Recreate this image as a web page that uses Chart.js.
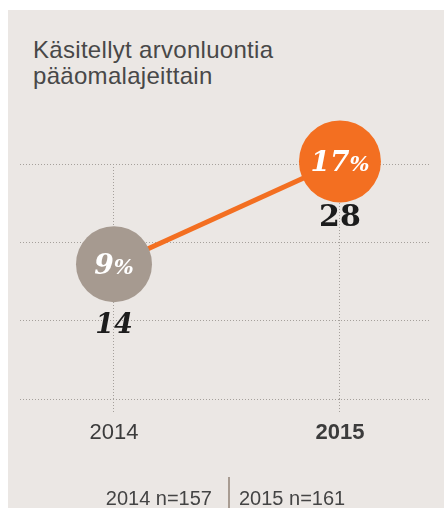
<!DOCTYPE html>
<html>
<head>
<meta charset="utf-8">
<script src="https://cdn.jsdelivr.net/npm/chart.js@4.4.1/dist/chart.umd.min.js"></script>
<style>
  html, body { margin: 0; padding: 0; background: #fff; }
  body { width: 444px; height: 508px; position: relative; overflow: hidden; font-family: "Liberation Sans", Arial, sans-serif; }
  #panel { position: absolute; left: 8px; top: 10px; width: 436px; height: 498px; background: #ebe7e4; }
  #title { position: absolute; left: 33px; top: 37px; font-size: 24px; letter-spacing: 0.3px; line-height: 26px; color: #484848; }
  #chart { position: absolute; left: 0; top: 0; }
  .foot { position: absolute; top: 486px; font-size: 20px; line-height: 24px; color: #444; white-space: nowrap; }
  #footL { right: 232px; }
  #footR { left: 239px; }
  #sep { position: absolute; left: 228px; top: 477px; width: 2px; height: 31px; background: #a89c92; }
</style>
</head>
<body>
<div id="panel"></div>
<div id="title">Käsitellyt arvonluontia<br>pääomalajeittain</div>
<canvas id="chart" width="444" height="508"></canvas>
<div class="foot" id="footL"></div>
<div id="sep"></div>
<div class="foot" id="footR"></div>
<script>
// data
var years = [2014, 2015];
var shares = [9, 17];          // % käsitellyt
var counts = [14, 28];         // lukumäärä
var sampleSizes = [157, 161];  // n
var yGrid = [-1.5, 4.6, 10.7, 16.8];

var orange = '#f36f21';
var grey = '#a69a90';

document.getElementById('footL').textContent = years[0] + ' n=' + sampleSizes[0];
document.getElementById('footR').textContent = years[1] + ' n=' + sampleSizes[1];

// percent inside circles + count under them
var labelPlugin = {
  id: 'bubbleLabels',
  afterDatasetsDraw: function(chart) {
    var ctx = chart.ctx;
    var meta = chart.getDatasetMeta(0);
    var countOffsets = [62, 57];
    var countFonts = ['italic bold 27px "DejaVu Serif"', 'bold 30px "DejaVu Serif"'];
    ctx.save();
    meta.data.forEach(function(pt, i) {
      var num = String(shares[i]);
      ctx.textBaseline = 'alphabetic';
      ctx.font = 'italic bold 28px "DejaVu Serif"';
      var w1 = ctx.measureText(num).width;
      ctx.font = 'italic bold 21px "DejaVu Serif"';
      var w2 = ctx.measureText('%').width;
      var x0 = pt.x - (w1 + w2) / 2;
      var base = pt.y + 10;
      ctx.fillStyle = '#fff';
      ctx.textAlign = 'left';
      ctx.font = 'italic bold 28px "DejaVu Serif"';
      ctx.fillText(num, x0, base);
      ctx.font = 'italic bold 21px "DejaVu Serif"';
      ctx.fillText('%', x0 + w1, base);

      ctx.fillStyle = '#1c1c1c';
      ctx.textAlign = 'center';
      ctx.textBaseline = 'middle';
      ctx.font = countFonts[i];
      ctx.fillText(String(counts[i]), pt.x, pt.y + countOffsets[i]);
    });
    ctx.restore();
  }
};

var ctx = document.getElementById('chart');

var chart = new Chart(ctx, {
  type: 'line',
  data: {
    datasets: [{
      data: years.map(function(y, i) { return { x: y, y: shares[i] }; }),
      borderColor: orange,
      borderWidth: 5,
      pointRadius: [38, 41],
      pointHoverRadius: [38, 41],
      pointBackgroundColor: [grey, orange],
      pointBorderWidth: 0,
      clip: false
    }]
  },
  options: {
    responsive: false,
    animation: false,
    events: [],
    layout: { autoPadding: false, padding: { left: 20, right: 13, top: 164, bottom: 62 } },
    plugins: {
      legend: { display: false },
      tooltip: { enabled: false }
    },
    scales: {
      x: {
        type: 'linear',
        min: 2013.584,
        max: 2015.403,
        afterBuildTicks: function(scale) {
          scale.ticks = years.map(function(v) { return { value: v }; });
        },
        afterFit: function(scale) {
          scale.paddingLeft = 0;
          scale.paddingRight = 0;
          scale.height = 47;
        },
        border: { display: false, dash: [1, 2] },
        grid: {
          color: '#a5a09b',
          tickBorderDash: [1, 2],
          tickLength: 14
        },
        ticks: {
          padding: 7,
          color: '#3c3c3c',
          callback: function(v) { return String(v); },
          font: function(c) {
            return {
              family: '"Liberation Sans", Arial, sans-serif',
              size: 22,
              weight: (c.tick && c.tick.value === 2015) ? 'bold' : 'normal'
            };
          }
        }
      },
      y: {
        min: yGrid[0],
        max: yGrid[yGrid.length - 1],
        afterBuildTicks: function(scale) {
          scale.ticks = yGrid.map(function(v) { return { value: v }; });
        },
        afterFit: function(scale) {
          scale.width = 0;
          scale.paddingTop = 0;
          scale.paddingBottom = 0;
        },
        border: { display: false, dash: [1, 2] },
        grid: {
          color: '#a5a09b',
          drawTicks: false
        },
        ticks: { display: false }
      }
    }
  },
  plugins: [labelPlugin]
});
</script>
</body>
</html>
